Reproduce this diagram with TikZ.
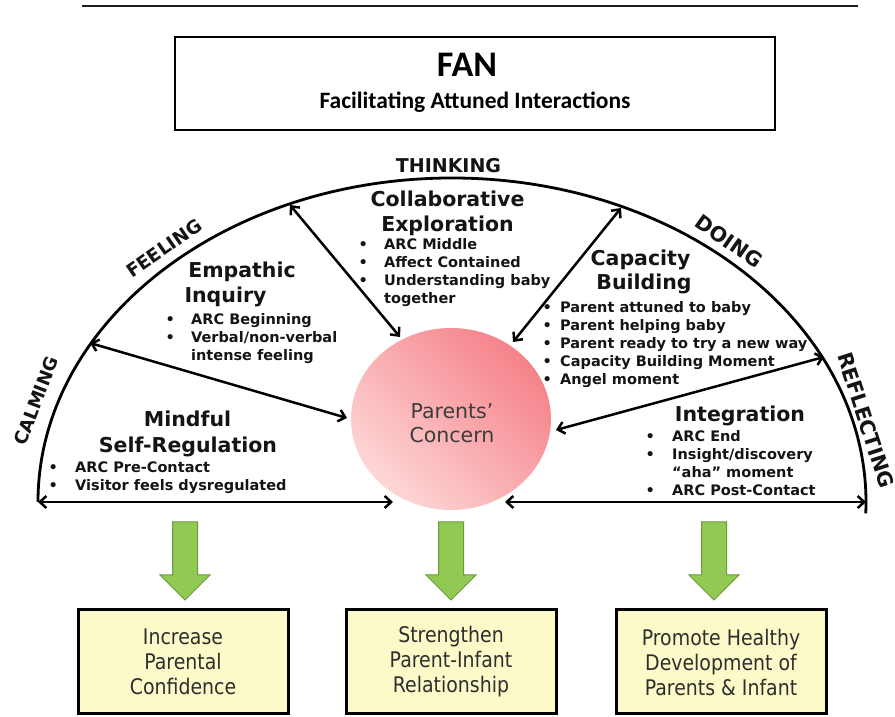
\documentclass[tikz,border=0pt]{standalone}
\usepackage{fontspec}
\setmainfont{DejaVu Sans}
\newfontfamily\calfont{Carlito}
\newfontfamily\boxfont[FakeStretch=0.88]{DejaVu Sans}
\usetikzlibrary{arrows.meta,shapes.geometric}
\definecolor{pinkD}{HTML}{F5828A}
\definecolor{pinkL}{HTML}{FDD6D6}
\definecolor{grfill}{HTML}{92C952}
\definecolor{grdraw}{HTML}{6B9A3A}
\definecolor{yel}{HTML}{FBFAC8}
\definecolor{txt}{HTML}{141414}
\definecolor{boxtxt}{HTML}{2E2E2E}
\definecolor{pctxt}{HTML}{3C3C3C}
\newcommand\mybul[1]{\llap{\makebox[#1pt]{•}}}
\tikzset{
  arcline/.style={line width=2.8pt, draw=black},
  conn/.style={line width=2.5pt, draw=black,
    {Straight Barb[length=6.5pt,width=12pt]}-{Straight Barb[length=6.5pt,width=12pt]}},
  hd/.style={font=\bfseries\fontsize{20.5}{24}\selectfont, text=txt, inner sep=0pt, anchor=base},
  blist/.style={font=\bfseries\fontsize{14.5}{18}\selectfont, text=txt, inner sep=0pt, anchor=base west},
  arcl/.style={inner sep=0pt, text=txt},
  outbox/.style={draw=black, line width=3pt, fill=yel, minimum width=210pt, minimum height=104pt,
    align=center, text=boxtxt, font=\boxfont\fontsize{21.5}{25}\selectfont},
  grarrow/.style={fill=grfill, draw=grdraw, line width=1pt, line join=miter},
}
\begin{document}
\begin{tikzpicture}[x=1pt,y=1pt]
\useasboundingbox (0,0) rectangle (895,717);
\fill[white] (0,0) rectangle (895,717);

% top rule
\draw[line width=1.5pt, draw=black!88] (82,711) -- (858,711);

% title box
\node[draw=black, line width=2.5pt, minimum width=600pt, minimum height=93pt, inner sep=0pt] (topbox) at (475,633.5) {};
\node[anchor=base, inner sep=0pt, font=\calfont\bfseries\fontsize{36}{36}\selectfont] (fan) at (467,640) {FAN};
\node[anchor=base, inner sep=0pt, font=\calfont\bfseries\fontsize{23.5}{24}\selectfont] (sub) at (475,608) {Facilitating Attuned Interactions};

% fan arc
\coordinate (arcL) at (38,215);
\draw[arcline] (arcL) arc[start angle=180, end angle=-2, x radius=414pt, y radius=324pt];

% arc labels
\node[arcl, rotate=69, font=\bfseries\fontsize{18}{18}\selectfont] (calm) at (36,316) {CALMING};
\node[arcl, rotate=35, font=\bfseries\fontsize{18.5}{18}\selectfont] (feel) at (164,469) {FEELING};
\node[arcl, font=\bfseries\fontsize{19}{19}\selectfont] (think) at (448.5,551) {THINKING};
\node[arcl, rotate=-35, font=\bfseries\fontsize{20.5}{20}\selectfont] (doing) at (729,476) {DOING};
\node[arcl, rotate=-72, font=\bfseries\fontsize{20.5}{21}\selectfont] (refl) at (866,297) {REFLECTING};

% central concern
\node[ellipse, minimum width=200pt, minimum height=182pt, inner sep=0pt,
      top color=pinkD, bottom color=pinkL, shading angle=-45] (pc) at (451,298) {};
\node[anchor=base, inner sep=0pt, text=pctxt, font=\fontsize{20.5}{24}\selectfont] (pctext) at (452,298)
  {\begin{tabular}[t]{@{}c@{}}Parents’\\Concern\end{tabular}};

% headings
\node[hd] (h1) at (242,439) {Empathic};
\node[hd] (h2) at (225.5,414) {Inquiry};
\node[hd] (h3) at (447.5,510) {Collaborative};
\node[hd] (h4) at (447.5,485) {Exploration};
\node[hd] (h5) at (640.5,451) {Capacity};
\node[hd] (h6) at (644,427) {Building};
\node[hd] (h7) at (187.5,290) {Mindful};
\node[hd] (h8) at (188,264) {Self-Regulation};
\node[hd] (h9) at (740,295) {Integration};

% bullet lists
\node[blist] (b1) at (191,392) {\begin{tabular}[t]{@{}l@{}}
  \mybul{42}ARC Beginning\\ \mybul{42}Verbal/non-verbal\\ intense feeling\end{tabular}};
\node[blist] (b2) at (384,467) {\begin{tabular}[t]{@{}l@{}}
  \mybul{42}ARC Middle\\ \mybul{42}Affect Contained\\ \mybul{42}Understanding baby\\ together\end{tabular}};
\node[blist] (b3) at (560,404) {\begin{tabular}[t]{@{}l@{}}
  \mybul{26}Parent attuned to baby\\ \mybul{26}Parent helping baby\\ \mybul{26}Parent ready to try a new way\\
  \mybul{26}Capacity Building Moment\\ \mybul{26}Angel moment\end{tabular}};
\node[blist] (b4) at (75,244) {\begin{tabular}[t]{@{}l@{}}
  \mybul{44}ARC Pre-Contact\\ \mybul{44}Visitor feels dysregulated\end{tabular}};
\node[blist] (b5) at (672,275) {\begin{tabular}[t]{@{}l@{}}
  \mybul{44}ARC End\\ \mybul{44}Insight/discovery\\ “aha” moment\\ \mybul{44}ARC Post-Contact\end{tabular}};

% connector end points
\coordinate (c1) at (90,374);
\coordinate (c2) at (290,512);
\coordinate (c3) at (621,509);
\coordinate (c4) at (824,360);
\coordinate (t1) at (347,299);
\coordinate (t2) at (400,380);
\coordinate (t3) at (513,375);
\coordinate (t4) at (556,287);
\coordinate (t5) at (393,215);
\coordinate (t6) at (505,215);
\coordinate (arcR) at (866,215);

\draw[conn] (c1) -- (t1);
\draw[conn] (c2) -- (t2);
\draw[conn] (c3) -- (t3);
\draw[conn] (c4) -- (t4);
\draw[conn] (arcL) -- (t5);
\draw[conn] (t6) -- (arcR);

% outcome boxes
\node[outbox] (o1) at (183,55) {Increase\\Parental\\Confidence};
\node[outbox] (o2) at (451,55) {Strengthen\\Parent-Infant\\Relationship};
\node[outbox] (o3) at (721,55) {Promote Healthy\\Development of\\Parents \& Infant};

% green block arrows
\foreach \cx in {185,451,714}{
  \draw[grarrow] (\cx-12.5,195) -- (\cx+12.5,195) -- (\cx+12.5,142) -- (\cx+25,142)
     -- (\cx,117) -- (\cx-25,142) -- (\cx-12.5,142) -- cycle;
}
\end{tikzpicture}
\end{document}
